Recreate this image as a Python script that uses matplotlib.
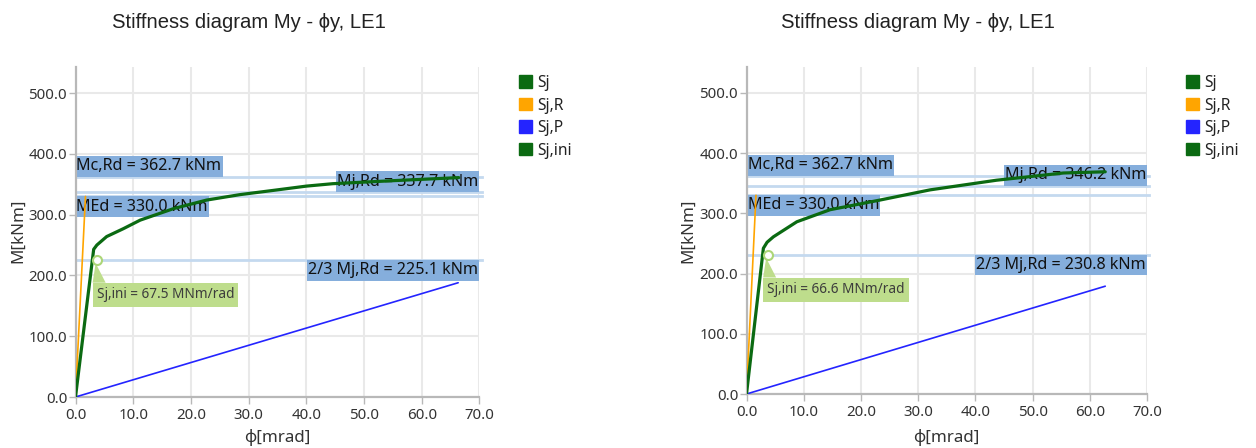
import matplotlib
matplotlib.use("Agg")
import matplotlib.pyplot as plt
from matplotlib.patches import Patch, Polygon
from matplotlib.path import Path
from matplotlib.transforms import Affine2D

# ---------------- data ----------------
title_text = "Stiffness diagram My - \u03d5y, LE1"
x_label = "\u03d5[mrad]"
y_label = "M[kNm]"
legend_labels = ["Sj", "Sj,R", "Sj,P", "Sj,ini"]
x_ticks = [0, 10, 20, 30, 40, 50, 60, 70]
y_ticks = [0, 100, 200, 300, 400, 500]

# left panel
left_sj_phi = [0, 3.15, 3.7, 5.4, 8.3, 11.2, 17.0, 22.7, 28.5, 34.3, 40.0, 44.6, 55.1, 66.4]
left_sj_m = [0, 243, 250, 264, 277, 291, 310, 324, 333, 340, 347, 351, 356, 361]
left_sjr_phi = [0, 1.73]
left_sjr_m = [0, 330.0]
left_sjp_phi = [0, 66.3]
left_sjp_m = [0, 188]
left_mc_rd = 362.7
left_mj_rd = 337.7
left_m_ed = 330.0
left_mj_rd_23 = 225.1
left_sj_ini = 67.5
left_ini_phi = 3.75

# right panel
right_sj_phi = [0, 2.95, 3.6, 4.7, 8.8, 14.6, 23.3, 32.1, 43.7, 55.4, 62.7]
right_sj_m = [0, 242, 252, 261, 286, 306, 322, 339, 355, 367, 369]
right_sjr_phi = [0, 1.66]
right_sjr_m = [0, 330.0]
right_sjp_phi = [0, 62.7]
right_sjp_m = [0, 179]
right_mc_rd = 362.7
right_mj_rd = 346.2
right_m_ed = 330.0
right_mj_rd_23 = 230.8
right_sj_ini = 66.6
right_ini_phi = 3.7

# ---------------- style ----------------
W, H, DPI = 1256, 448, 100
C_SJ = "#0b6a12"
C_SJR = "#ffa500"
C_SJP = "#2424ff"
C_LIMIT = "#c4d9ef"
C_BOX = "#85aedc"
C_INI_BOX = "#bedd8c"
C_GRID = "#e9e9e9"
C_AXIS = "#b8b8b8"
C_TEXT = "#333333"
UI_FONT = ["Noto Sans", "DejaVu Sans"]
TITLE_FONT = ["Liberation Sans", "DejaVu Sans"]

fig = plt.figure(figsize=(W / DPI, H / DPI), dpi=DPI)
fig.patch.set_facecolor("white")


def padded_box(padx, pady):
    """Rectangle box style with separate horizontal / vertical padding (pixels)."""
    def style(x0, y0, width, height, mutation_size):
        x1 = x0 - padx
        y1 = y0 - pady
        x2 = x0 + width + padx
        y2 = y0 + height + pady
        return Path([(x1, y1), (x2, y1), (x2, y2), (x1, y2), (x1, y1)],
                    closed=True)
    return style


def add_axes_px(left, right, bottom, top):
    return fig.add_axes([left / W, (H - bottom) / H, (right - left) / W, (bottom - top) / H])


def draw_panel(ax, sj_phi, sj_m, sjr_phi, sjr_m, sjp_phi, sjp_m,
               mc_rd, mj_rd, m_ed, mj_rd_23, sj_ini, ini_phi):
    ax.set_xlim(0, 70)
    ax.set_ylim(0, 543)
    ax.set_xticks(x_ticks)
    ax.set_yticks(y_ticks)
    ax.set_xticklabels([f"{t:.1f}" for t in x_ticks])
    ax.set_yticklabels([f"{t:.1f}" for t in y_ticks])
    for side in ("top", "right"):
        ax.spines[side].set_visible(False)
    for side in ("left", "bottom"):
        ax.spines[side].set_color(C_AXIS)
        ax.spines[side].set_linewidth(1.6)
    ax.tick_params(colors=C_AXIS, labelcolor=C_TEXT, length=5, width=1.0,
                   labelsize=10.8, pad=1.0)
    ax.tick_params(axis="x", pad=3.0)
    for lab in ax.get_xticklabels() + ax.get_yticklabels():
        lab.set_family(UI_FONT)
    ax.grid(True, color=C_GRID, linewidth=1.5, zorder=0)
    ax.set_axisbelow(True)

    # limit lines
    for v in (mc_rd, mj_rd, m_ed, mj_rd_23):
        ax.axhline(v, xmin=0, xmax=1.006, color=C_LIMIT, linewidth=2.0,
                   clip_on=False, zorder=1)

    # value labels
    padx, pady = 1.0, 2.2
    box = dict(boxstyle=padded_box(padx, pady), fc=C_BOX, ec="none")
    common = dict(textcoords="offset pixels", fontsize=11.6, family=UI_FONT,
                  color="#111111", bbox=box, zorder=2, annotation_clip=False)
    ax.annotate(f"Mc,Rd = {mc_rd:.1f} kNm", xy=(0, mc_rd), xytext=(padx, pady),
                ha="left", va="bottom", **common)
    ax.annotate(f"MEd = {m_ed:.1f} kNm", xy=(0, m_ed), xytext=(padx, -pady),
                ha="left", va="top", **common)
    ax.annotate(f"Mj,Rd = {mj_rd:.1f} kNm", xy=(70, mj_rd), xytext=(-padx, pady),
                ha="right", va="bottom", **common)
    ax.annotate(f"2/3 Mj,Rd = {mj_rd_23:.1f} kNm", xy=(70, mj_rd_23),
                xytext=(-padx, -pady), ha="right", va="top", **common)

    # curves
    ax.plot(sjp_phi, sjp_m, color=C_SJP, linewidth=1.2, zorder=3,
            solid_capstyle="round")
    ax.plot(sjr_phi, sjr_m, color=C_SJR, linewidth=1.2, zorder=3,
            solid_capstyle="round")
    ax.plot(sj_phi, sj_m, color=C_SJ, linewidth=2.3, zorder=3,
            solid_joinstyle="round", solid_capstyle="round")

    # initial stiffness callout
    mx, my = ax.transData.transform((ini_phi, mj_rd_23))
    tail = Affine2D().translate(mx, my)
    tri = Polygon([(-1.5, -3), (-4.5, -22.5), (8.5, -22.5)], closed=True,
                  fc=C_INI_BOX, ec="none", transform=tail, zorder=4)
    ax.add_patch(tri)
    ini_box = dict(boxstyle=padded_box(4.0, 4.5), fc=C_INI_BOX, ec="none")
    ax.annotate(f"Sj,ini = {sj_ini:.1f} MNm/rad", xy=(ini_phi, mj_rd_23),
                xytext=(-0.5, -27), textcoords="offset pixels", ha="left",
                va="top", fontsize=9.8, family=UI_FONT, color="#3c3c3c",
                bbox=ini_box, zorder=4, annotation_clip=False)
    ax.plot([ini_phi], [mj_rd_23], "o", ms=6.5, mfc="white", mec="#acd678",
            mew=1.5, zorder=5)


panels = [
    dict(rect=(75.5, 479.5, 397, 67), title_x=249, ylabel_x=18, legend=(519, 75),
         args=(left_sj_phi, left_sj_m, left_sjr_phi, left_sjr_m, left_sjp_phi,
               left_sjp_m, left_mc_rd, left_mj_rd, left_m_ed, left_mj_rd_23,
               left_sj_ini, left_ini_phi)),
    dict(rect=(746.5, 1147, 394, 67), title_x=918, ylabel_x=688, legend=(1186, 75),
         args=(right_sj_phi, right_sj_m, right_sjr_phi, right_sjr_m, right_sjp_phi,
               right_sjp_m, right_mc_rd, right_mj_rd, right_m_ed, right_mj_rd_23,
               right_sj_ini, right_ini_phi)),
]

legend_colors = [C_SJ, C_SJR, C_SJP, C_SJ]

for p in panels:
    l, r, b, t = p["rect"]
    ax = add_axes_px(l, r, b, t)
    draw_panel(ax, *p["args"])
    fig.text(p["title_x"] / W, 1 - 22 / H, title_text, ha="center", va="center",
             fontsize=14.6, family=TITLE_FONT, color="#222222")
    fig.text(p["ylabel_x"] / W, 1 - 231 / H, y_label, rotation=90, ha="center",
             va="center", fontsize=12.2, family=UI_FONT, color=C_TEXT)
    fig.text(((l + r) / 2) / W, 1 - 437 / H, x_label, ha="center", va="center",
             fontsize=12.2, family=UI_FONT, color=C_TEXT)
    handles = [Patch(fc=c, ec=c) for c in legend_colors]
    lx, ly = p["legend"]
    fig.legend(handles, legend_labels, loc="upper left",
               bbox_to_anchor=(lx / W, 1 - ly / H), frameon=False,
               handlelength=0.85, handleheight=0.85, handletextpad=0.35,
               labelspacing=0.42, borderpad=0, borderaxespad=0,
               prop=dict(family=UI_FONT, size=11.2), labelcolor="#222222")

fig.savefig("out.png", dpi=DPI, facecolor="white")
